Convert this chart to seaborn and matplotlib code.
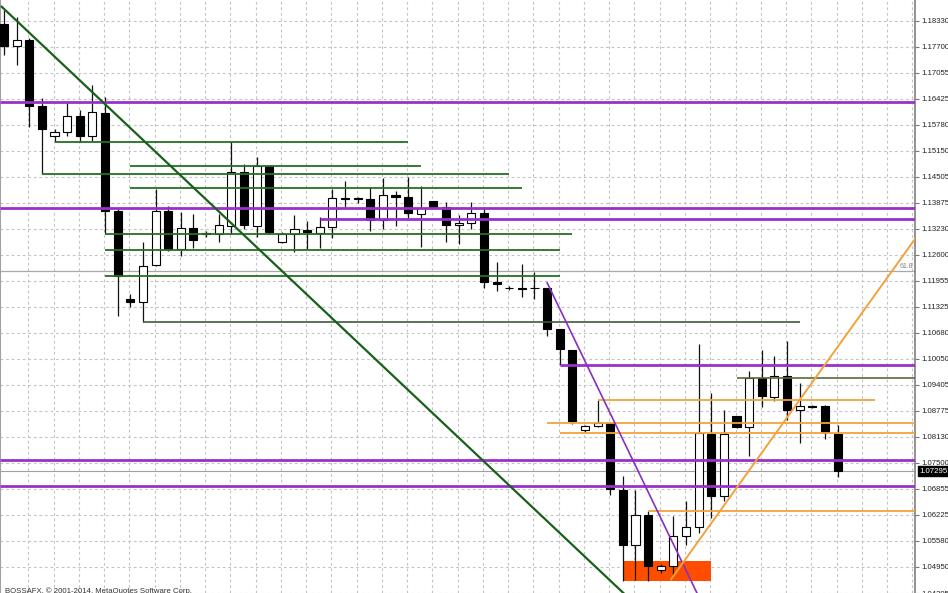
import numpy as np
import pandas as pd
import matplotlib
matplotlib.use("Agg")
import matplotlib.pyplot as plt
import seaborn as sns

# Velas diarias, 67 barras
open_ = [1.18257, 1.17720, 1.17866, 1.16255, 1.15498, 1.15596, 1.16011, 1.15498, 1.16084, 1.13667,
         1.11518, 1.11445, 1.12349, 1.13667, 1.12739, 1.13252, 1.13105, 1.13105, 1.13301, 1.14619,
         1.13301, 1.14766, 1.12910, 1.13105, 1.13203, 1.13130, 1.13276, 1.13984, 1.13984, 1.13960,
         1.13447, 1.14058, 1.14009, 1.13594, 1.13911, 1.13765, 1.13325, 1.13374, 1.13618, 1.11934,
         1.11787, 1.11787, 1.11787, 1.11787, 1.10786, 1.10273, 1.08296, 1.08393, 1.08467, 1.06831,
         1.05488, 1.06221, 1.04878, 1.04976, 1.05708, 1.05928, 1.08198, 1.06684, 1.08638, 1.08369,
         1.09565, 1.09101, 1.09614, 1.08784, 1.08882, 1.08882, 1.08198]
high = [1.18599, 1.18428, 1.17915, 1.16450, 1.15669, 1.16328, 1.16157, 1.16767, 1.16475, 1.13716,
        1.11641, 1.12910, 1.14204, 1.13789, 1.13642, 1.13594, 1.13179, 1.13594, 1.15351, 1.14814,
        1.14985, 1.14766, 1.13154, 1.13569, 1.13423, 1.13520, 1.14204, 1.14399, 1.14009, 1.14253,
        1.14473, 1.14155, 1.14497, 1.14277, 1.13911, 1.13887, 1.13569, 1.13887, 1.13765, 1.12422,
        1.11836, 1.12373, 1.12178, 1.11787, 1.10786, 1.10273, 1.08418, 1.09028, 1.08467, 1.07173,
        1.06831, 1.06318, 1.05024, 1.06196, 1.06562, 1.10420, 1.09199, 1.08784, 1.08638, 1.09736,
        1.10273, 1.10127, 1.10493, 1.09443, 1.08906, 1.08906, 1.08418]
low = [1.17500, 1.17256, 1.15718, 1.14570, 1.15351, 1.15498, 1.15351, 1.15376, 1.13105, 1.11103,
       1.11323, 1.10957, 1.12324, 1.12690, 1.12568, 1.12764, 1.13032, 1.12910, 1.13105, 1.13227,
       1.13032, 1.13105, 1.12886, 1.12666, 1.12739, 1.12764, 1.13008, 1.13765, 1.13862, 1.13179,
       1.13227, 1.13301, 1.13472, 1.12788, 1.13765, 1.12910, 1.12861, 1.13227, 1.11787, 1.11714,
       1.11738, 1.11567, 1.11518, 1.10615, 1.09883, 1.08442, 1.08247, 1.08369, 1.06709, 1.04609,
       1.04634, 1.04609, 1.04805, 1.04756, 1.05488, 1.05781, 1.06147, 1.06562, 1.08345, 1.07661,
       1.08857, 1.09004, 1.08540, 1.07978, 1.08833, 1.08076, 1.07148]
close = [1.17720, 1.17866, 1.16255, 1.15669, 1.15596, 1.16011, 1.15498, 1.16108, 1.13667, 1.12080,
         1.11445, 1.12324, 1.13667, 1.12739, 1.13252, 1.12959, 1.13130, 1.13325, 1.14619, 1.13325,
         1.14766, 1.13154, 1.13105, 1.13227, 1.13154, 1.13276, 1.13984, 1.13972, 1.13972, 1.13447,
         1.14058, 1.14009, 1.13618, 1.13740, 1.13765, 1.13325, 1.13374, 1.13618, 1.11934, 1.11885,
         1.11787, 1.11763, 1.11787, 1.10786, 1.10298, 1.08516, 1.08393, 1.08467, 1.06855, 1.05488,
         1.06221, 1.04976, 1.04976, 1.05708, 1.05928, 1.08223, 1.06684, 1.08198, 1.08369, 1.09565,
         1.09126, 1.09614, 1.08784, 1.08882, 1.08857, 1.08247, 1.07295]

# Escala de precios (eje derecho)
price_ticks = [1.18330, 1.17700, 1.17055, 1.16425, 1.15780, 1.15150, 1.14505, 1.13875, 1.13230,
               1.12600, 1.11955, 1.11325, 1.10680, 1.10050, 1.09405, 1.08775, 1.08130, 1.07500,
               1.06855, 1.06225, 1.05580, 1.04950, 1.04305]
bid_price = 1.07295

# Niveles horizontales verdes (precio, barra inicio, barra fin)
green_levels = [1.15351, 1.14766, 1.14570, 1.14228, 1.13105, 1.12715, 1.12080]
green_start = [4, 10, 3, 10, 8, 8, 8]
green_end = [32, 33, 40, 41, 45, 44, 44]
gray_level, gray_start, gray_end = 1.10957, 11, 63
olive_level, olive_start = 1.09565, 58

# Niveles morados (None = desde el borde izquierdo)
purple_levels = [1.16352, 1.13740, 1.13484, 1.09883, 1.07563, 1.06929]
purple_start = [None, None, 25, 44, None, None]

# Niveles naranjas
orange_levels = [1.09028, 1.08467, 1.08223, 1.06318]
orange_start = [47, 43, 44, 51]
orange_end = [69, None, None, None]

fibo_level = 1.12202

# Lineas de tendencia: dos anclas (barra, precio)
green_trend = [(0, 1.18625), (48, 1.04609)]
purple_trend = [(43, 1.11787), (53.5, 1.05098)]
orange_trend = [(53, 1.04720), (70, 1.12064)]

# Rectangulo (barras y precios)
rect_bars = (49, 56)
rect_prices = (1.04609, 1.05098)

df = pd.DataFrame({"open": open_, "high": high, "low": low, "close": close})
df["bar"] = np.arange(len(df))
df["up"] = df["close"] >= df["open"]

sns.set_style("white")
plt.rcParams["font.family"] = ["Liberation Sans", "DejaVu Sans"]

W, H = 948, 593
fig = plt.figure(figsize=(W / 100, H / 100), dpi=100, facecolor="white")
ax = fig.add_axes([0, 0, 915 / W, 1])

x_min, x_max = -0.317, 72.13
y_min, y_max = 1.04365, 1.18843
ax.set_xlim(x_min, x_max)
ax.set_ylim(y_min, y_max)

# Cuadricula punteada
grid_kw = dict(color="#c4c4c4", lw=0.8, ls=(0, (2.5, 2.5)), zorder=0)
for p in price_ticks:
    ax.axhline(p, **grid_kw)
for b in range(2, 73, 2):
    ax.axvline(b - 0.08, **grid_kw)

# Fibo 61.8 y linea bid
ax.axhline(fibo_level, color="#a8a8a8", lw=0.9, zorder=1)
ax.text(x_max - 0.15, fibo_level + 0.0003, "61.8", fontsize=5, color="#808080",
        ha="right", va="bottom")
ax.axhline(bid_price, color="#a0a0a0", lw=0.8, zorder=1)

# Rectangulo naranja (detras de las velas)
ax.fill_between([rect_bars[0], rect_bars[1]], rect_prices[0], rect_prices[1],
                color="#ff4d00", lw=0, zorder=1.5)


def extend(anchors):
    (x0, y0), (x1, y1) = anchors
    k = (y1 - y0) / (x1 - x0)
    xs = np.array([x0 - 0.2, x_max + 1])
    return xs, y0 + k * (xs - x0)


# Velas
ax.vlines(df["bar"], df["low"], df["high"], color="#111111", lw=0.9, zorder=3)
body_lo = np.minimum(df["open"], df["close"])
body_h = (df["close"] - df["open"]).abs()
ax.bar(df["bar"], body_h, bottom=body_lo, width=0.64,
       color=np.where(df["up"], "white", "black"), edgecolor="black", lw=0.8, zorder=4)

# Objetos dibujados encima
for p, s, e in zip(green_levels, green_start, green_end):
    ax.hlines(p, s, e, color="#237023", lw=1.3, zorder=5)
ax.hlines(gray_level, gray_start, gray_end, color="#3f5a3f", lw=1.2, zorder=5)
ax.hlines(olive_level, olive_start, x_max + 1, color="#5a6b3a", lw=1.2, zorder=5)

for p, s in zip(purple_levels, purple_start):
    ax.hlines(p, x_min if s is None else s, x_max + 1, color="#9a30cc", lw=2.0, zorder=6)

for p, s, e in zip(orange_levels, orange_start, orange_end):
    ax.hlines(p, s, x_max + 1 if e is None else e, color="#f2a23a", lw=1.3, zorder=5)

xs, ys = extend(green_trend)
sns.lineplot(x=xs, y=ys, ax=ax, color="#19601a", lw=1.6, zorder=6)
xs, ys = extend(purple_trend)
xs[0] = purple_trend[0][0]
sns.lineplot(x=xs, y=ys, ax=ax, color="#8a2fc0", lw=1.2, zorder=6)
xs, ys = extend(orange_trend)
xs[0] = orange_trend[0][0] - 0.2
sns.lineplot(x=xs, y=ys, ax=ax, color="#f2a23a", lw=1.4, zorder=6)

# Eje derecho
ax.yaxis.tick_right()
ax.set_yticks(price_ticks)
ax.set_yticklabels([f"{p:.5f}" for p in price_ticks])
ax.tick_params(axis="y", which="both", direction="out", length=3, width=0.8, color="#777777",
               pad=1.5, labelsize=5.6, labelcolor="#222222", right=True, left=False)
ax.set_xticks([])
ax.set_xlabel("")
ax.set_ylabel("")
for side in ["top", "bottom"]:
    ax.spines[side].set_visible(False)
ax.spines["right"].set_color("#808080")
ax.spines["right"].set_linewidth(1.2)
ax.spines["left"].set_color("#a0a0a0")
ax.spines["left"].set_linewidth(1.5)

# Etiqueta del precio actual
ax.text(x_max + 0.35, bid_price, f"{bid_price:.5f}", fontsize=5.6, color="white",
        ha="left", va="center", clip_on=False, zorder=10,
        bbox=dict(boxstyle="square,pad=0.15", fc="black", ec="black"))

fig.text(5 / W, 1 - 587.5 / H, "BOSSAFX, \u00a9 2001-2014, MetaQuotes Software Corp.",
         fontsize=5.6, color="#333333", ha="left", va="top")

fig.savefig("out.png", dpi=100, facecolor="white")
